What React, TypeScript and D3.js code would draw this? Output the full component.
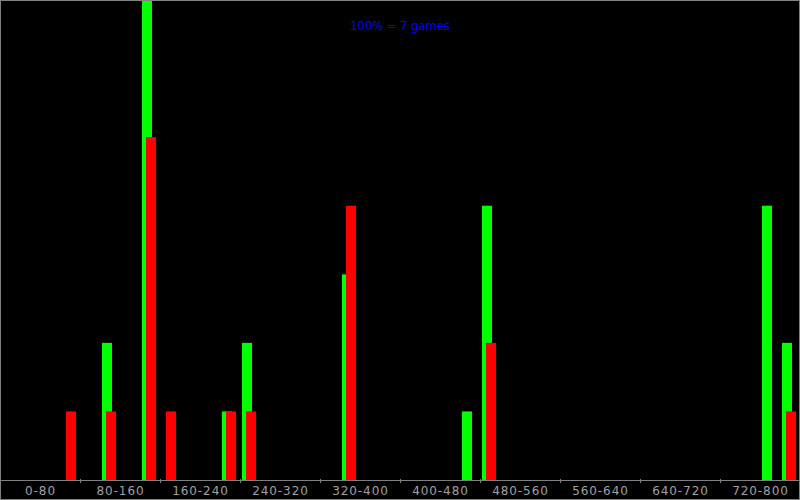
import React from "react";
import * as d3 from "d3";

const binStarts: number[] = d3.range(0, 800, 20);
const greenValues: number[] = [0,0,0,0,0,2,0,7,0,0, 0,1,2,0,0,0,0,3,0,0, 0,0,0,1,4,0,0,0,0,0, 0,0,0,0,0,0,0,0,4,2];
const redValues: number[] =   [0,0,0,1,0,1,0,5,1,0, 0,1,1,0,0,0,0,4,0,0, 0,0,0,0,2,0,0,0,0,0, 0,0,0,0,0,0,0,0,0,1];
const tickLabels: string[] = ["0-80","80-160","160-240","240-320","320-400","400-480","480-560","560-640","640-720","720-800"];
const tickValues: number[] = [0,80,160,240,320,400,480,560,640,720];
const maxGames = 7;
const title = "100% = 7 games";

export default function App() {
  const W = 800, H = 500;
  const axisY = 480;
  const x = d3.scaleLinear().domain([0, 800]).range([0, 800]);
  const y = d3.scaleLinear().domain([0, maxGames]).range([axisY, 0]);
  const barW = 10;
  return (
    <svg width={W} height={H} style={{ position: "absolute", left: 0, top: 0, background: "#000" }}>
      <rect x={0} y={0} width={W} height={H} fill="#000" />
      {binStarts.map((s, i) => greenValues[i] > 0 ? (
        <rect key={"g" + i} x={x(s) + 2} y={y(greenValues[i])} width={barW} height={axisY - y(greenValues[i])} fill="#00ff00" />
      ) : null)}
      {binStarts.map((s, i) => redValues[i] > 0 ? (
        <rect key={"r" + i} x={x(s) + 6} y={y(redValues[i])} width={barW} height={axisY - y(redValues[i])} fill="#ff0000" />
      ) : null)}
      <line x1={0} x2={800} y1={axisY + 0.5} y2={axisY + 0.5} stroke="#808080" strokeWidth={1} />
      {tickValues.slice(1).map((t) => (
        <line key={"t" + t} x1={x(t) + 0.5} x2={x(t) + 0.5} y1={axisY - 1} y2={axisY + 3} stroke="#808080" strokeWidth={1} />
      ))}
      {tickLabels.map((lab, i) => (
        <text key={lab} x={x(tickValues[i] + 40) + 0.5} y={495} textAnchor="middle" fontFamily="DejaVu Sans" fontSize={12} letterSpacing={0.9} fill="#a0a0a0">{lab}</text>
      ))}
      <text x={400} y={30} textAnchor="middle" fontFamily="DejaVu Sans" fontSize={11.5} fill="#0000ff">{title}</text>
      <rect x={0.5} y={0.5} width={W - 1} height={H - 1} fill="none" stroke="#808080" strokeWidth={1} />
    </svg>
  );
}
